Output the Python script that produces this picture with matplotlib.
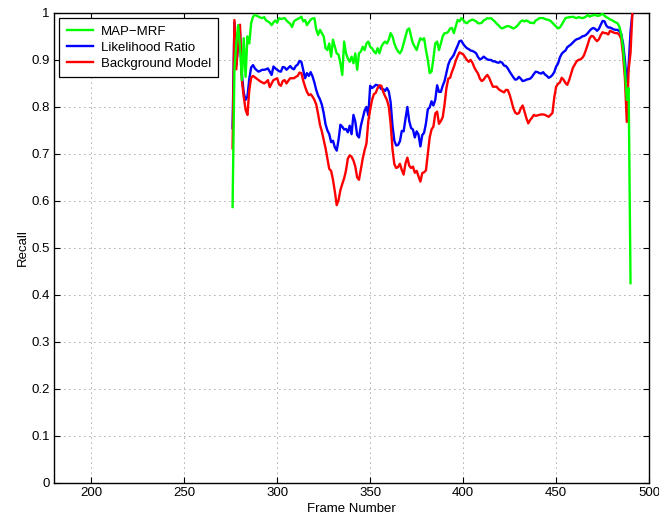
import matplotlib
matplotlib.use("Agg")
import matplotlib.pyplot as plt
import numpy as np

plt.rcParams["font.family"] = ["Liberation Sans", "DejaVu Sans"]

# Data (one value per frame, first frame given separately)
START_FRAME = 276

map_mrf = [0.587, 0.879, 0.935, 0.974, 0.928, 0.857, 0.946, 0.864, 0.950, 0.935,
           0.978, 0.992, 0.996, 0.994, 0.992, 0.990, 0.989, 0.991, 0.984, 0.982,
           0.979, 0.974, 0.980, 0.984, 0.979, 0.989, 0.987, 0.988, 0.989, 0.984,
           0.980, 0.977, 0.970, 0.982, 0.985, 0.987, 0.989, 0.992, 0.982, 0.985,
           0.974, 0.980, 0.986, 0.988, 0.989, 0.965, 0.953, 0.964, 0.957, 0.950,
           0.925, 0.921, 0.935, 0.907, 0.943, 0.928, 0.914, 0.911, 0.893, 0.868,
           0.939, 0.914, 0.903, 0.896, 0.907, 0.893, 0.914, 0.879, 0.914, 0.918,
           0.928, 0.921, 0.935, 0.939, 0.928, 0.925, 0.918, 0.914, 0.925, 0.914,
           0.928, 0.935, 0.939, 0.935, 0.943, 0.957, 0.950, 0.935, 0.925, 0.918,
           0.914, 0.921, 0.935, 0.950, 0.964, 0.967, 0.950, 0.935, 0.928, 0.921,
           0.935, 0.946, 0.943, 0.946, 0.921, 0.900, 0.872, 0.875, 0.903, 0.935,
           0.939, 0.921, 0.935, 0.950, 0.957, 0.957, 0.960, 0.967, 0.968, 0.957,
           0.971, 0.985, 0.982, 0.989, 0.985, 0.980, 0.978, 0.982, 0.984, 0.986,
           0.984, 0.982, 0.978, 0.978, 0.979, 0.984, 0.986, 0.989, 0.988, 0.989,
           0.985, 0.982, 0.977, 0.974, 0.969, 0.967, 0.969, 0.971, 0.972, 0.971,
           0.969, 0.967, 0.969, 0.972, 0.977, 0.982, 0.984, 0.982, 0.984, 0.982,
           0.979, 0.979, 0.978, 0.984, 0.986, 0.989, 0.989, 0.989, 0.987, 0.986,
           0.985, 0.983, 0.979, 0.975, 0.971, 0.967, 0.969, 0.975, 0.982, 0.989,
           0.990, 0.991, 0.991, 0.992, 0.990, 0.989, 0.991, 0.990, 0.989, 0.990,
           0.992, 0.996, 0.992, 0.994, 0.995, 0.996, 0.994, 0.994, 0.996, 0.998,
           0.994, 0.991, 0.989, 0.986, 0.985, 0.982, 0.980, 0.978, 0.971, 0.955,
           0.925, 0.880, 0.815, 0.840, 0.425]

likelihood = [0.755, 0.980, 0.890, 0.930, 0.960, 0.870, 0.830, 0.815, 0.822, 0.860,
              0.884, 0.889, 0.882, 0.878, 0.875, 0.877, 0.879, 0.879, 0.880, 0.882,
              0.875, 0.868, 0.886, 0.882, 0.879, 0.876, 0.875, 0.885, 0.884, 0.879,
              0.883, 0.887, 0.882, 0.880, 0.887, 0.890, 0.898, 0.896, 0.879, 0.861,
              0.872, 0.866, 0.874, 0.865, 0.852, 0.836, 0.824, 0.816, 0.805, 0.787,
              0.763, 0.750, 0.742, 0.725, 0.728, 0.714, 0.707, 0.730, 0.762, 0.758,
              0.752, 0.753, 0.746, 0.760, 0.742, 0.783, 0.769, 0.740, 0.735, 0.760,
              0.776, 0.792, 0.800, 0.782, 0.845, 0.840, 0.843, 0.847, 0.846, 0.843,
              0.838, 0.838, 0.834, 0.840, 0.833, 0.810, 0.760, 0.728, 0.718, 0.719,
              0.727, 0.749, 0.748, 0.775, 0.800, 0.770, 0.755, 0.752, 0.735, 0.748,
              0.741, 0.716, 0.740, 0.745, 0.765, 0.795, 0.799, 0.812, 0.803, 0.815,
              0.846, 0.832, 0.832, 0.845, 0.855, 0.872, 0.890, 0.900, 0.905, 0.911,
              0.921, 0.930, 0.940, 0.941, 0.934, 0.929, 0.925, 0.923, 0.920, 0.919,
              0.917, 0.914, 0.906, 0.901, 0.903, 0.907, 0.904, 0.901, 0.900, 0.900,
              0.897, 0.897, 0.895, 0.894, 0.896, 0.894, 0.888, 0.887, 0.882, 0.875,
              0.869, 0.863, 0.858, 0.859, 0.864, 0.860, 0.855, 0.856, 0.858, 0.859,
              0.860, 0.864, 0.870, 0.875, 0.874, 0.872, 0.871, 0.874, 0.869, 0.866,
              0.862, 0.864, 0.868, 0.874, 0.886, 0.892, 0.905, 0.913, 0.917, 0.920,
              0.927, 0.930, 0.933, 0.937, 0.941, 0.944, 0.945, 0.947, 0.950, 0.951,
              0.953, 0.957, 0.962, 0.966, 0.968, 0.966, 0.962, 0.966, 0.975, 0.983,
              0.982, 0.973, 0.969, 0.969, 0.967, 0.965, 0.964, 0.964, 0.961, 0.955,
              0.935, 0.900, 0.850, 0.890, 0.960, 1.000]

background = [0.712, 0.985, 0.880, 0.940, 0.975, 0.857, 0.822, 0.794, 0.783, 0.836,
              0.862, 0.866, 0.863, 0.860, 0.857, 0.854, 0.852, 0.850, 0.853, 0.857,
              0.842, 0.850, 0.857, 0.859, 0.861, 0.848, 0.845, 0.855, 0.857, 0.850,
              0.856, 0.861, 0.861, 0.861, 0.864, 0.866, 0.873, 0.872, 0.856, 0.843,
              0.832, 0.825, 0.827, 0.822, 0.815, 0.805, 0.785, 0.762, 0.748, 0.730,
              0.712, 0.690, 0.668, 0.664, 0.645, 0.620, 0.591, 0.602, 0.623, 0.636,
              0.648, 0.665, 0.690, 0.697, 0.694, 0.686, 0.673, 0.650, 0.645, 0.668,
              0.690, 0.708, 0.722, 0.770, 0.794, 0.815, 0.827, 0.830, 0.840, 0.846,
              0.845, 0.832, 0.823, 0.815, 0.801, 0.765, 0.710, 0.678, 0.670, 0.672,
              0.679, 0.666, 0.656, 0.680, 0.692, 0.675, 0.670, 0.673, 0.660, 0.664,
              0.652, 0.641, 0.659, 0.661, 0.665, 0.700, 0.735, 0.752, 0.758, 0.786,
              0.790, 0.764, 0.770, 0.778, 0.805, 0.840, 0.860, 0.862, 0.875, 0.885,
              0.898, 0.908, 0.916, 0.914, 0.912, 0.906, 0.900, 0.896, 0.900, 0.894,
              0.884, 0.877, 0.871, 0.860, 0.855, 0.858, 0.864, 0.868, 0.862, 0.852,
              0.843, 0.843, 0.843, 0.838, 0.835, 0.833, 0.831, 0.836, 0.836, 0.826,
              0.812, 0.797, 0.788, 0.785, 0.787, 0.797, 0.803, 0.790, 0.776, 0.765,
              0.772, 0.777, 0.783, 0.781, 0.782, 0.783, 0.784, 0.784, 0.783, 0.781,
              0.779, 0.783, 0.787, 0.820, 0.843, 0.849, 0.852, 0.862, 0.858, 0.851,
              0.847, 0.857, 0.870, 0.883, 0.890, 0.897, 0.900, 0.901, 0.904, 0.910,
              0.921, 0.933, 0.946, 0.951, 0.950, 0.944, 0.940, 0.944, 0.953, 0.959,
              0.957, 0.957, 0.954, 0.962, 0.960, 0.958, 0.957, 0.957, 0.953, 0.945,
              0.910, 0.860, 0.768, 0.880, 0.915, 1.000]

labels = ["MAP\u2212MRF", "Likelihood Ratio", "Background Model"]
x_ticks = [200, 250, 300, 350, 400, 450, 500]
y_ticks = [0, 0.1, 0.2, 0.3, 0.4, 0.5, 0.6, 0.7, 0.8, 0.9, 1]
y_tick_labels = ["0", "0.1", "0.2", "0.3", "0.4", "0.5", "0.6", "0.7", "0.8", "0.9", "1"]

FS = 9.5


def frames_for(vals):
    return np.arange(START_FRAME, START_FRAME + len(vals))


fig = plt.figure(figsize=(6.59, 5.17), dpi=100)
ax = fig.add_axes([0.082, 0.066, 0.903, 0.909])

l_g, = ax.plot(frames_for(map_mrf), map_mrf, color="#00ff00", lw=1.7, zorder=4)
l_b, = ax.plot(frames_for(likelihood), likelihood, color="#0000ff", lw=1.7, zorder=2)
l_r, = ax.plot(frames_for(background), background, color="#ff0000", lw=1.7, zorder=3)

ax.set_xlim(180, 500)
ax.set_ylim(0, 1)
ax.set_xticks(x_ticks)
ax.set_yticks(y_ticks)
ax.set_yticklabels(y_tick_labels)
ax.tick_params(direction="in", top=True, right=True, length=4, width=0.8,
               labelsize=FS, pad=3)
for s in ax.spines.values():
    s.set_linewidth(1.0)
    s.set_color("black")
ax.grid(True, linestyle=(0, (1, 5)), color="#555555", linewidth=0.6)

ax.set_xlabel("Frame Number", fontsize=FS, labelpad=3)
ax.set_ylabel("Recall", fontsize=FS, labelpad=2)

leg = ax.legend([l_g, l_b, l_r], labels, loc="upper left", fontsize=FS,
                fancybox=False, framealpha=1, edgecolor="black",
                borderaxespad=0.4, handlelength=2.0, handletextpad=0.6,
                labelspacing=0.28, borderpad=0.55)
leg.get_frame().set_linewidth(0.9)

fig.savefig("out.png", dpi=100, facecolor="white")
